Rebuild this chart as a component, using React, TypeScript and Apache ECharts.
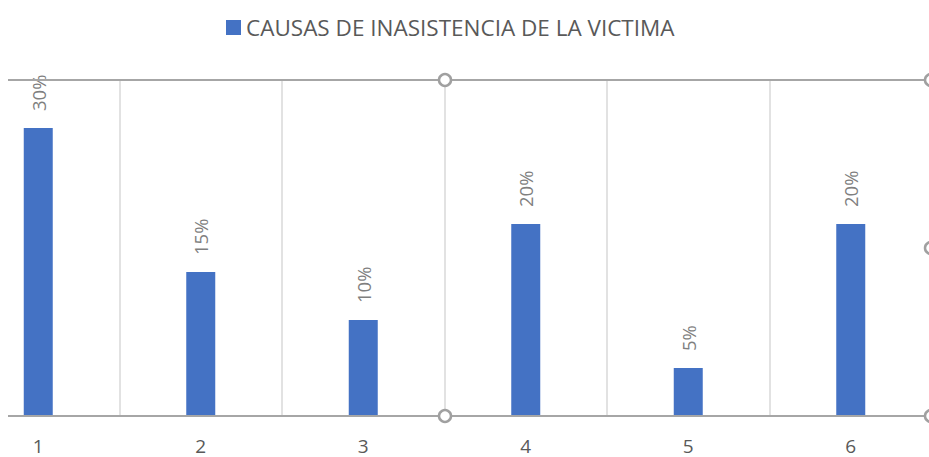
import React, { useEffect, useRef } from "react";
import * as echarts from "echarts";

const categories = ["1", "2", "3", "4", "5", "6"];
const values = [30, 15, 10, 20, 5, 20];
const seriesName = "CAUSAS DE INASISTENCIA DE LA VICTIMA";

const OFFSET = 43; // the plot area starts left of the visible picture

export default function App() {
  const ref = useRef<HTMLDivElement>(null);
  useEffect(() => {
    const chart = echarts.init(ref.current!, null, { renderer: "svg" });
    const handle = (x: number, y: number) => ({
      type: "circle",
      shape: { cx: x + OFFSET, cy: y, r: 6 },
      style: { fill: "#ffffff", stroke: "#a0a0a0", lineWidth: 2.5 },
      z: 100,
    });
    chart.setOption({
      animation: false,
      backgroundColor: "#ffffff",
      textStyle: { fontFamily: "Open Sans" },
      legend: {
        show: true,
        left: 221 + OFFSET,
        top: 11,
        icon: "rect",
        itemWidth: 15,
        itemHeight: 15,
        itemGap: 5,
        textStyle: { color: "#595959", fontSize: 22.5, fontFamily: "Open Sans" },
        data: [seriesName],
      },
      grid: { left: 0, right: 0, top: 80, height: 336 },
      xAxis: {
        type: "category",
        data: categories,
        axisLine: { show: false },
        axisTick: { show: false },
        axisLabel: { color: "#595959", fontSize: 19, margin: 20 },
        splitLine: {
          show: true,
          interval: 0,
          lineStyle: { color: "#d9d9d9", width: 1.5 },
        },
      },
      yAxis: {
        type: "value",
        min: 0,
        max: 35,
        show: false,
        splitLine: { show: false },
      },
      series: [
        {
          name: seriesName,
          type: "bar",
          data: values,
          barWidth: 29,
          itemStyle: { color: "#4472C4" },
          label: {
            show: true,
            position: "top",
            rotate: 90,
            align: "left",
            verticalAlign: "middle",
            distance: 17,
            formatter: "{c}%",
            color: "#7f7f7f",
            fontSize: 18.5,
          },
        },
      ],
      graphic: [
        {
          type: "line",
          shape: { x1: 8 + OFFSET, y1: 80, x2: 930 + OFFSET, y2: 80 },
          style: { stroke: "#a6a6a6", lineWidth: 2 },
          z: 90,
        },
        {
          type: "line",
          shape: { x1: 8 + OFFSET, y1: 416, x2: 930 + OFFSET, y2: 416 },
          style: { stroke: "#a6a6a6", lineWidth: 2 },
          z: 90,
        },
        handle(445, 80),
        handle(445, 416),
        handle(931, 80),
        handle(931, 248),
        handle(931, 416),
      ],
    });
    return () => chart.dispose();
  }, []);
  return (
    <div style={{ position: "fixed", left: 0, top: 0, width: 929, height: 457, overflow: "hidden" }}>
      <div
        ref={ref}
        style={{ position: "absolute", left: -OFFSET, top: 0, width: 975, height: 457 }}
      />
    </div>
  );
}
